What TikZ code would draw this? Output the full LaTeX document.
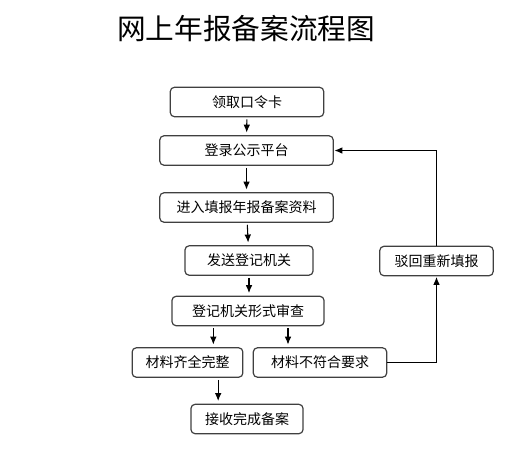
\documentclass[tikz,border=0pt]{standalone}
\usepackage{fontspec}
\newfontfamily\cjk{Noto Sans CJK SC}
\usetikzlibrary{arrows.meta}

\begin{document}
\begin{tikzpicture}[x=0.75pt,y=-0.75pt,
   every node/.style={font=\cjk\fontsize{10.5}{12}\selectfont},
   stepbox/.style={draw=black!75,line width=0.9pt,rounded corners=3pt,
      inner sep=0pt,minimum height=22pt},
   arr/.style={-{Latex[length=6pt,width=5pt]},line width=0.8pt,
      shorten <=1.5pt,shorten >=2pt}]
\useasboundingbox (0,0) rectangle (531,468);
\node[font=\cjk\fontsize{21.5}{24}\selectfont] (title) at (246,28.5) {网上年报备案流程图};
% main column
\node[stepbox,minimum width=115pt] (card)   at (247,102)   {领取口令卡};
\node[stepbox,minimum width=130pt] (login)  at (246.5,150.5) {登录公示平台};
\node[stepbox,minimum width=130pt] (fill)   at (246.5,207.5) {进入填报年报备案资料};
\node[stepbox,minimum width=96pt]  (send)   at (249,260.5) {发送登记机关};
\node[stepbox,minimum width=114pt] (check)  at (248,311)   {登记机关形式审查};
\node[stepbox,minimum width=83pt]  (ok)     at (187.5,362.5) {材料齐全完整};
\node[stepbox,minimum width=100pt] (bad)    at (320,362.5) {材料不符合要求};
\node[stepbox,minimum width=84pt]  (done)   at (247,419)   {接收完成备案};
\node[stepbox,minimum width=85pt]  (reject) at (436.5,261) {驳回重新填报};
% arrows
\draw[arr] (card) -- (login);
\draw[arr] (login) -- (fill);
\draw[arr] (fill) -- (send);
\draw[arr] (send.south) -- (send.south |- check.north);
\draw[arr] ([xshift=-26pt]check.south) -- ([xshift=-26pt]check.south |- ok.north);
\draw[arr] ([xshift=30pt]check.south) -- ([xshift=30pt]check.south |- bad.north);
\draw[arr] ([xshift=23pt]ok.south) -- ([xshift=23pt]ok.south |- done.north);
% back to login
\draw[arr,shorten <=0pt,shorten >=0.5pt] (bad.east) -| (reject.south);
\draw[arr,shorten <=0pt,shorten >=0.5pt] (reject.north) |- (login.east);
\end{tikzpicture}
\end{document}
